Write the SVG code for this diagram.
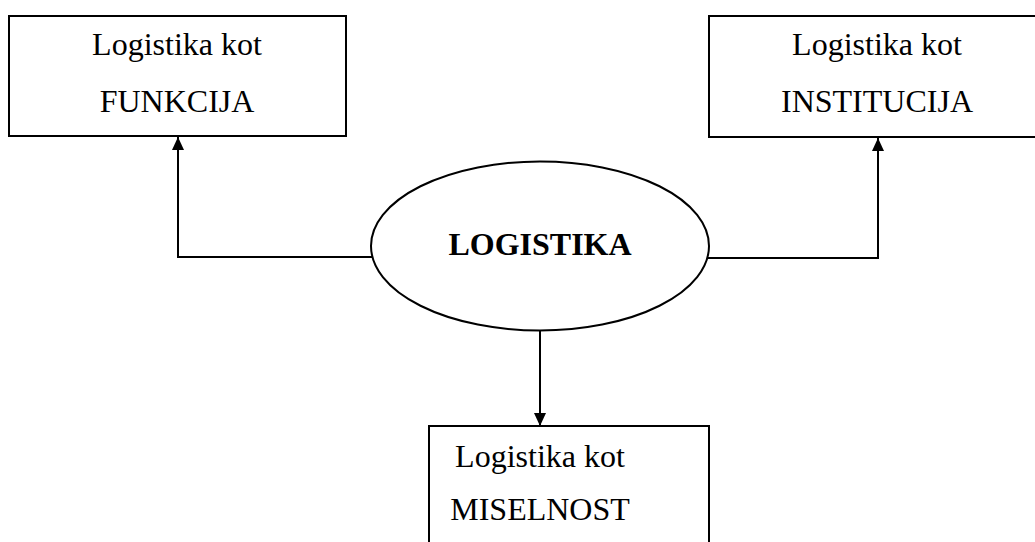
<svg xmlns="http://www.w3.org/2000/svg" width="1035" height="542" viewBox="0 0 1035 542">
<style>
.box{fill:#fff;stroke:#000;stroke-width:2}
.t{font-family:"Liberation Serif","Times New Roman",serif;font-size:32px;text-anchor:middle;fill:#000}
.b{font-weight:bold}
.c{fill:none;stroke:#000;stroke-width:2}
</style>
<defs>
<marker id="ah" viewBox="0 0 13 12" refX="13" refY="6" markerWidth="13" markerHeight="12" markerUnits="userSpaceOnUse" orient="auto">
<path d="M0,0 L13,6 L0,12 Z" fill="#000"/>
</marker>
</defs>
<rect width="1035" height="542" fill="#fff"/>
<g id="connectors">
<path class="c" d="M372,257 H178 V137" marker-end="url(#ah)"/>
<path class="c" d="M708,258 H878 V138" marker-end="url(#ah)"/>
<path class="c" d="M540,330 V426" marker-end="url(#ah)"/>
</g>
<g id="funkcija">
<rect class="box" x="9" y="16" width="337" height="120"/>
<text class="t" x="177" y="55">Logistika kot</text>
<text class="t" x="177" y="112">FUNKCIJA</text>
</g>
<g id="institucija">
<rect class="box" x="709" y="16" width="340" height="121"/>
<text class="t" x="877" y="55">Logistika kot</text>
<text class="t" x="877" y="112">INSTITUCIJA</text>
</g>
<g id="logistika">
<ellipse class="box" cx="540" cy="246" rx="169" ry="84.5"/>
<text class="t b" x="540" y="255">LOGISTIKA</text>
</g>
<g id="miselnost">
<rect class="box" x="429" y="426" width="280" height="130"/>
<text class="t" x="540" y="467">Logistika kot</text>
<text class="t" x="540" y="520">MISELNOST</text>
</g>
</svg>
